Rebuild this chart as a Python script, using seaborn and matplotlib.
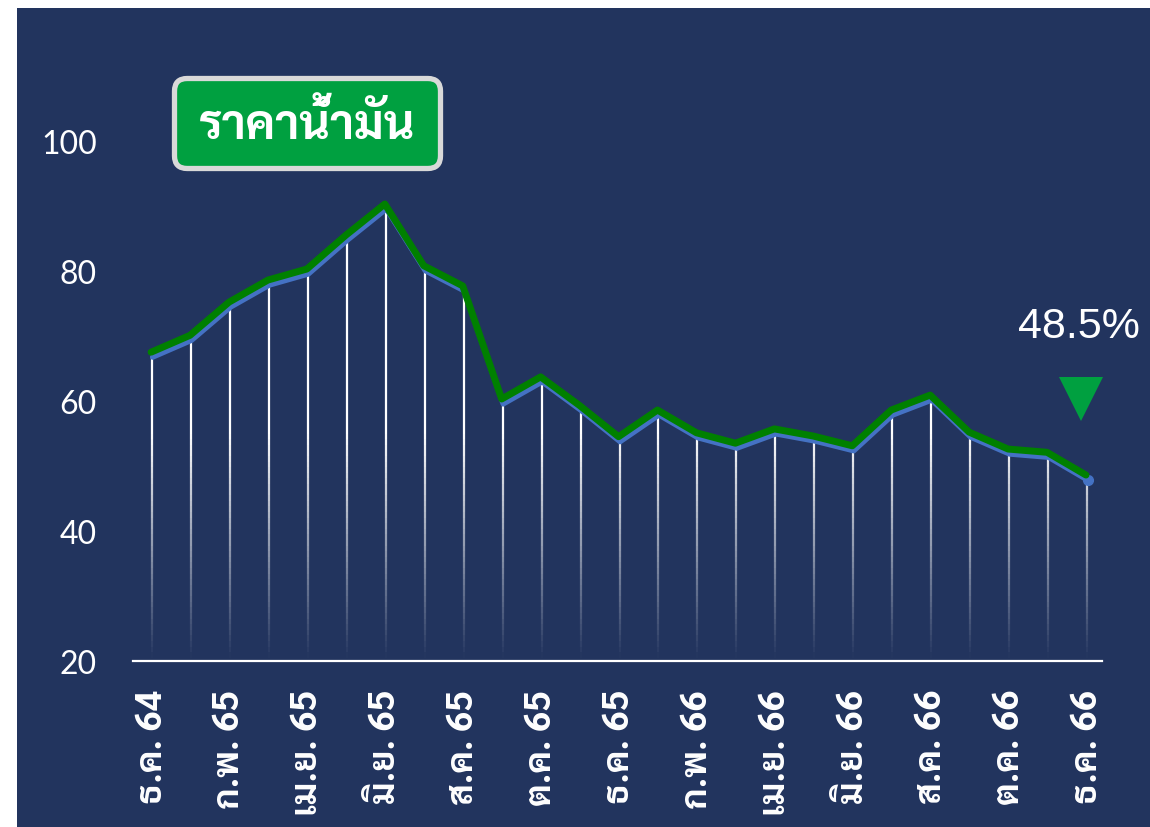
import numpy as np
import pandas as pd
import matplotlib
matplotlib.use("Agg")
import matplotlib.pyplot as plt
import matplotlib.transforms as mtransforms
from matplotlib.patches import FancyBboxPatch, Rectangle
from matplotlib import font_manager
from matplotlib.ft2font import FT2Font
import seaborn as sns

# ---- data ----
months = ["ธ.ค. 64", "ม.ค. 65", "ก.พ. 65", "มี.ค. 65", "เม.ย. 65", "พ.ค. 65",
          "มิ.ย. 65", "ก.ค. 65", "ส.ค. 65", "ก.ย. 65", "ต.ค. 65", "พ.ย. 65",
          "ธ.ค. 65", "ม.ค. 66", "ก.พ. 66", "มี.ค. 66", "เม.ย. 66", "พ.ค. 66",
          "มิ.ย. 66", "ก.ค. 66", "ส.ค. 66", "ก.ย. 66", "ต.ค. 66", "พ.ย. 66",
          "ธ.ค. 66"]
oil_price = [67.2, 69.8, 74.9, 78.3, 80.0, 85.2, 90.0, 80.5, 77.4, 60.0,
             63.4, 59.0, 54.2, 58.3, 54.8, 53.2, 55.4, 54.3, 52.8, 58.3,
             60.6, 54.9, 52.3, 51.8, 48.3]
y_ticks = [20, 40, 60, 80, 100]
title = "ราคาน้ำมัน"
change_label = "48.5%"

df = pd.DataFrame({"idx": np.arange(len(months)), "month": months, "price": oil_price})

NAVY = "#22345E"
GREEN_LINE = "#008000"
BLUE_LINE = "#4472C4"
BOX_GREEN = "#00A040"


# pick a looped Thai font that also comes in bold
def find_thai_font():
    preferred = ["Sarabun", "Noto Sans Thai Looped", "Niramit", "K2D", "Krub",
                 "Athiti", "Bai Jamjuree", "Noto Sans Thai"]
    bold_ok = set()
    any_thai = []
    for f in font_manager.fontManager.ttflist:
        try:
            cmap = FT2Font(f.fname).get_charmap()
        except Exception:
            continue
        if 0x0E04 in cmap and 0x0E33 in cmap:
            any_thai.append(f.name)
            if f.weight in (700, "bold") and f.style == "normal":
                bold_ok.add(f.name)
    for p in preferred:
        if p in bold_ok:
            return p
    for p in preferred:
        if p in any_thai:
            return p
    return any_thai[0] if any_thai else "DejaVu Sans"


thai_font = find_thai_font()

sns.set_style("white")
plt.rcParams["font.family"] = [thai_font, "DejaVu Sans"]

fig = plt.figure(figsize=(11.5, 8.28), dpi=100, facecolor="white")
fig.patches.append(Rectangle((17 / 1150, 0), 1, 1 - 9 / 828, transform=fig.transFigure,
                             facecolor=NAVY, edgecolor="none", zorder=-10))

ax = fig.add_axes([133 / 1150, 1 - 662 / 828, (1102 - 133) / 1150, (662 - 77) / 828])
ax.set_facecolor("none")
ax.set_xlim(-0.49, 24.385)
ax.set_ylim(20, 110)

# drop lines fading out towards the axis
fade_top = 55
n_seg = 40
edges = np.linspace(20.5, fade_top, n_seg + 1)
for x, v in zip(df["idx"], df["price"]):
    ax.vlines(x, min(v, fade_top), v, color="white", lw=1.6, zorder=2)
    for i in range(n_seg):
        lo, hi = edges[i], edges[i + 1]
        if lo >= v:
            break
        a = (i + 0.5) / n_seg
        ax.vlines(x, lo, min(hi, v), color="white", lw=1.6, alpha=a, zorder=2)

# blue series with green line sitting slightly above it
blue_tr = mtransforms.offset_copy(ax.transData, fig=fig, x=0.5, y=-3, units="dots")
green_tr = mtransforms.offset_copy(ax.transData, fig=fig, x=-1, y=2, units="dots")
sns.lineplot(data=df, x="idx", y="price", ax=ax, color=BLUE_LINE, lw=3.8,
             transform=blue_tr, zorder=3, solid_capstyle="round", solid_joinstyle="round")
ax.plot(df["idx"].iloc[-1], df["price"].iloc[-1], "o", color=BLUE_LINE, ms=7,
        transform=blue_tr, zorder=3)
sns.lineplot(data=df, x="idx", y="price", ax=ax, color=GREEN_LINE, lw=5,
             transform=green_tr, zorder=4, solid_capstyle="round", solid_joinstyle="round")

# axis styling
for s in ["top", "right", "left"]:
    ax.spines[s].set_visible(False)
ax.spines["bottom"].set_color("white")
ax.spines["bottom"].set_linewidth(1.6)
ax.spines["bottom"].set_zorder(5)

ax.set_yticks(y_ticks)
ax.set_yticklabels([str(t) for t in y_ticks], color="white", fontsize=23, family=["Lato", "DejaVu Sans"])
ax.tick_params(axis="y", length=0, pad=26)

ax.set_xticks(df["idx"][::2])
ax.set_xticklabels(df["month"][::2], rotation=90, color="white", fontsize=26, fontweight="bold")
ax.tick_params(axis="x", length=0, pad=20)
ax.set_xlabel("")
ax.set_ylabel("")
ax.grid(False)

# title box
box = FancyBboxPatch((174.5 / 1150, 1 - 169.5 / 828), 266 / 1150, 90 / 828,
                     boxstyle="round,pad=0,rounding_size=0.011", mutation_aspect=1150 / 828,
                     transform=fig.transFigure, facecolor=BOX_GREEN, edgecolor="#D9D9D9",
                     lw=3.8, zorder=6)
fig.patches.append(box)
fig.text(307.5 / 1150, 1 - 127 / 828, title, color="white", fontsize=34, fontweight="bold",
         ha="center", va="center", zorder=7)

# change indicator
last_x = df["idx"].iloc[-1]
last_v = df["price"].iloc[-1]
ax.plot(last_x - 0.16, last_v + 12.0, marker="v", color=BOX_GREEN, ms=32, mew=0,
        clip_on=False, zorder=6)
ax.text(last_x - 0.2, last_v + 23.2, change_label, color="white", fontsize=31,
        family=["Liberation Sans", "DejaVu Sans"], ha="center", va="center", clip_on=False)

fig.savefig("out.png", dpi=100, facecolor="white")
